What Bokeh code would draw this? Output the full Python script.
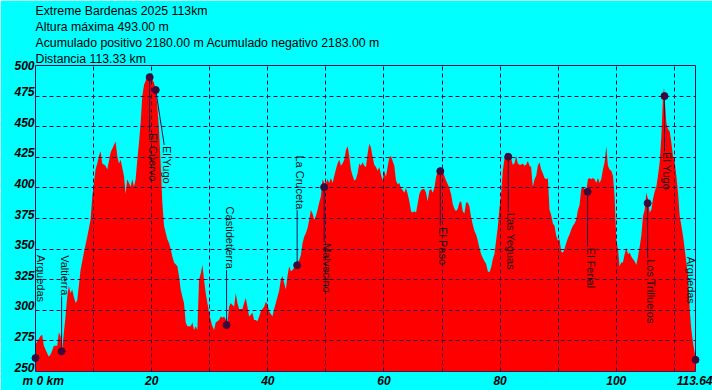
import math
from bokeh.plotting import figure
from bokeh.models import (ColumnDataSource, LabelSet, Range1d, FixedTicker, LinearAxis, Title)
from bokeh.core.properties import value
from bokeh.embed import file_html
from bokeh.resources import INLINE

# ---------------- data ----------------
title_lines = [
    "Extreme Bardenas 2025 113km",
    "Altura máxima 493.00 m",
    "Acumulado positivo 2180.00 m Acumulado negativo 2183.00 m",
    "Distancia 113.33 km",
]

dist_km = [
    0.00, 0.86, 1.15, 1.44, 2.01, 2.30, 2.70, 3.16, 3.74, 4.02, 4.31, 4.60, 4.89, 5.17, 5.46, 5.75,
    6.03, 6.32, 6.61, 6.90, 7.18, 7.76, 8.33, 8.91, 9.48, 9.77, 10.06, 10.34, 10.63, 10.92, 11.21,
    11.49, 12.07, 12.36, 12.93, 13.51, 13.79, 14.08, 14.37, 14.66, 15.23, 15.52, 15.80, 16.38, 16.67,
    16.95, 17.24, 17.53, 17.82, 18.10, 18.39, 18.68, 19.25, 19.54, 19.94, 20.40, 20.69, 20.98, 21.26,
    21.55, 21.84, 22.13, 22.70, 22.99, 23.28, 23.56, 23.85, 24.43, 24.71, 25.00, 25.29, 25.57, 25.86,
    26.15, 26.72, 27.01, 27.30, 27.59, 27.87,
    28.16, 28.45, 28.74, 29.02, 29.31, 29.60, 29.89, 30.17, 30.46, 30.75, 31.03, 31.61, 31.90, 32.18,
    32.47, 33.05, 33.33, 33.62, 34.20, 34.48, 34.77, 35.06, 35.63, 35.92, 36.21, 36.49, 36.78, 37.36,
    37.64, 37.93, 38.22, 38.51, 38.79, 39.08, 39.37, 39.66, 39.94, 40.23, 40.80, 41.09, 41.38, 41.67,
    41.95, 42.24, 42.53, 42.82, 43.10, 43.39, 43.68, 43.97, 44.25, 44.83, 45.40, 45.69, 45.98, 46.26,
    46.55, 46.84, 47.13, 47.41, 47.70, 47.99, 48.28, 48.56, 48.85, 49.14, 49.43, 49.71, 50.00, 50.29,
    50.57, 50.86, 51.15, 51.44, 51.72, 52.01, 52.30, 52.59, 52.87, 53.16, 53.45, 53.74, 54.02, 54.31,
    54.60, 54.89, 55.17, 55.46, 55.75, 56.03, 56.32, 56.61,
    56.90, 57.18, 57.47, 57.76, 58.05, 58.33, 58.62, 58.91, 59.20, 59.48, 59.77, 60.06, 60.34, 60.63,
    60.92, 61.21, 61.49, 61.78, 62.07, 62.36, 62.64, 62.93, 63.22, 63.51, 63.79, 64.08, 64.37, 64.66,
    64.94, 65.23, 65.52, 65.80, 66.09, 66.38, 66.67, 66.95, 67.24, 67.53, 67.82, 68.10, 68.39, 68.68,
    68.97, 69.25, 69.54, 69.83, 70.11, 70.40, 70.69, 70.98, 71.26, 71.55, 71.84, 72.13, 72.41, 72.70,
    72.99, 73.28, 73.56, 73.85, 74.14, 74.43, 74.71, 75.00, 75.29, 75.57, 75.86, 76.15, 76.44, 76.72,
    77.01, 77.30, 77.59, 77.87, 78.16, 78.45, 78.74, 79.02, 79.31, 79.60, 79.89, 80.17, 80.46, 80.75,
    81.03, 81.32, 81.61, 81.90, 82.18, 82.47, 82.76, 83.05, 83.33, 83.62, 83.91, 84.20, 84.48, 84.77,
    85.06, 85.34,
    85.63, 85.92, 86.21, 86.49, 86.78, 87.07, 87.36, 87.64, 87.93, 88.22, 88.51, 88.79, 89.08, 89.37,
    89.66, 89.94, 90.23, 90.52, 90.80, 91.09, 91.38, 91.67, 91.95, 92.24, 92.53, 92.82, 93.10, 93.39,
    93.68, 93.97, 94.25, 94.54, 94.83, 95.11, 95.40, 95.69, 95.98, 96.26, 96.55, 96.84, 97.13, 97.41,
    97.70, 97.99, 98.28, 98.56, 98.85, 99.14, 99.43, 99.71, 100.00, 100.29, 100.57, 100.86, 101.15,
    101.44, 101.72, 102.01, 102.30, 102.59, 102.87, 103.16, 103.45, 103.74, 104.02, 104.31, 104.60,
    104.89, 105.17, 105.46, 105.75, 106.03, 106.32, 106.61, 106.90, 107.18, 107.47, 107.76, 108.05,
    108.22, 108.51, 108.62, 108.91, 109.20, 109.48, 109.77, 110.06, 110.34, 110.63, 110.92, 111.21,
    111.49, 111.78, 112.07, 112.36, 112.64, 112.93, 113.22, 113.51, 113.64,
]

elev_m = [
    272, 279, 280, 271, 265, 262, 265, 271, 271, 282, 279, 267, 282, 295, 311, 320,
    314, 317, 311, 306, 308, 333, 347, 360, 374, 393, 404, 415, 420, 426, 430,
    420, 418, 415, 429, 435, 438, 426, 420, 423, 410, 395, 407, 401, 407,
    401, 407, 423, 437, 453, 475, 484, 491, 493, 490, 486, 480, 467, 448,
    420, 388, 369, 358, 355, 350, 344, 339, 336, 328, 317, 311, 306, 290,
    287, 287, 290, 284, 287, 284,
    325, 330, 337, 325, 314, 306, 298, 292, 287, 284, 290, 292, 295, 294,
    295, 290, 303, 306, 303, 314, 306, 301, 301, 306, 310, 303, 295, 298,
    292, 292, 291, 295, 299, 301, 303, 307, 305, 299, 295, 301, 306, 311,
    316, 325, 328, 322, 317, 328, 336, 332, 333, 337, 341, 345, 355, 360,
    363, 367, 374, 382, 379, 374, 377, 382, 388, 393, 407, 404, 404, 407,
    404, 408, 404, 410, 415, 420, 423, 418, 420, 423, 431, 434, 426, 415,
    410, 406, 407, 412, 420, 418, 421, 418,
    417, 428, 436, 433, 425, 419, 417, 414, 417, 411, 406, 414, 409, 417,
    425, 426, 422, 418, 406, 403, 404, 400, 398, 396, 400, 395, 389, 381,
    380, 381, 380, 387, 395, 398, 399, 399, 396, 389, 398, 399, 396, 400,
    409, 414, 414, 417, 413, 410, 406, 403, 400, 395, 387, 383, 381, 383,
    388, 389, 381, 379, 388, 388, 385, 376, 370, 365, 362, 357, 351, 346,
    343, 340, 338, 332, 331, 335, 342, 346, 357, 368, 384, 395, 414, 424,
    429, 428, 425, 424, 419, 420, 426, 420, 419, 419, 420, 418, 419, 422,
    418, 417,
    401, 407, 410, 418, 421, 415, 412, 408, 407, 408, 382, 378, 371, 369,
    361, 357, 358, 348, 347, 350, 355, 359, 362, 366, 369, 371, 374, 382,
    386, 399, 401, 399, 397, 407, 408, 407, 408, 407, 404, 408, 404, 407,
    415, 421, 434, 418, 415, 414, 410, 393, 358, 350, 336, 339, 339,
    346, 351, 346, 347, 344, 342, 340, 337, 344, 352, 361, 377,
    382, 396, 391, 380, 382, 391, 397, 401, 410, 421, 442, 475,
    482, 461, 453, 448, 446, 437, 426, 421, 410, 396, 377, 369,
    361, 350, 339, 328, 301, 284, 273, 265, 258,
]

wp_names = ["Arguedas", "Valtierra", "El Cuervo", "El Yugo", "Castidetierra", "La Cruceta",
            "Malvecino", "El Paso", "Las Yeguas", "El Ferial", "Los Trilluelos", "El Yugo", "Arguedas"]
wp_km = [0.0, 4.5, 19.66, 20.7, 32.9, 45.05, 49.7, 69.7, 81.4, 95.06, 105.4, 108.3, 113.64]
wp_elev = [261, 266.5, 490.5, 480, 288, 336.8, 400.6, 413.7, 425.4, 396.8, 387.5, 475, 259.5]
wp_side = ["up", "up", "down", "down", "up", "up", "down", "down", "down", "down", "down", "down", "up"]

x_ticks = [0, 20, 40, 60, 80, 100, 113.64]
x_tick_labels = ["m 0 km", "20", "40", "60", "80", "100", "113.64"]
y_ticks = [250, 275, 300, 325, 350, 375, 400, 425, 450, 475, 500]
y_tick_labels = ["250", "275", "300", "325", "350", "375", "400", "425", "450", "475", "500"]
x_grid = [10, 20, 30, 40, 50, 60, 70, 80, 90, 100, 110]
y_grid = [275, 300, 325, 350, 375, 400, 425, 450, 475]

# ---------------- layout / style ----------------
X_MIN, X_MAX = 0, 113.64
Y_MIN, Y_MAX = 250, 500
W, H = 712, 390
BL, BR, BT, BB = 35, 17, 65, 19
FRAME_W = W - BL - BR
FRAME_H = H - BT - BB
PX_PER_KM = FRAME_W / (X_MAX - X_MIN)
PX_PER_M = FRAME_H / (Y_MAX - Y_MIN)
LABEL_GAP = 56          # px between marker and start of its name
LINE_GAP = 55           # px length of the leader line
TEXT_NUDGE_PX = {0: 2, 3: 8.5, 12: -8}
LINE_NUDGE_PX = {3: 8.5}
Y_LABEL_RAISE_PX = 4.5  # y tick labels sit on their grid line
FIRST_X_LABEL_PAD = "\u2002\u2002\u00a0"

BG = "#00FFFF"
FONT = "Liberation Sans"
INK = "#000000"

p = figure(width=W, height=H, x_range=Range1d(X_MIN, X_MAX), y_range=Range1d(Y_MIN, Y_MAX),
           output_backend="svg", toolbar_location=None, y_axis_location=None,
           min_border_left=BL, min_border_right=BR, min_border_top=BT, min_border_bottom=BB)
p.background_fill_color = BG
p.border_fill_color = BG
p.outline_line_color = "#1b1450"
p.outline_line_width = 1

# x axis
xa = p.xaxis[0]
xa.ticker = FixedTicker(ticks=x_ticks)
overrides = {x_ticks[0]: FIRST_X_LABEL_PAD + x_tick_labels[0]}
overrides.update({t: s for t, s in zip(x_ticks[1:], x_tick_labels[1:])})
xa.major_label_overrides = overrides
xa.axis_line_color = None
xa.major_tick_line_color = None
xa.minor_tick_line_color = None
xa.major_tick_out = 0
xa.major_tick_in = 0
xa.major_label_standoff = 2
xa.major_label_text_font = FONT
xa.major_label_text_font_size = "12px"
xa.major_label_text_font_style = "bold italic"
xa.major_label_text_color = INK

# y axis: labels resting on their grid lines (top label held at the frame edge)
shift = Y_LABEL_RAISE_PX / PX_PER_M
lab_top = Y_MAX - shift
p.extra_y_ranges = {"ylab": Range1d(Y_MIN - shift, lab_top)}
y_label_pos = [min(t, lab_top) for t in y_ticks]
ya = LinearAxis(y_range_name="ylab", ticker=FixedTicker(ticks=y_label_pos))
ya.major_label_overrides = {t: s for t, s in zip(y_label_pos, y_tick_labels)}
ya.axis_line_color = None
ya.major_tick_line_color = None
ya.minor_tick_line_color = None
ya.major_tick_out = 0
ya.major_tick_in = 0
ya.major_label_standoff = 1
ya.major_label_text_font = FONT
ya.major_label_text_font_size = "12px"
ya.major_label_text_font_style = "bold italic"
ya.major_label_text_color = INK
p.add_layout(ya, "left")

# grids
p.xgrid.ticker = FixedTicker(ticks=x_grid)
p.ygrid.ticker = FixedTicker(ticks=y_grid)
for g in (p.xgrid[0], p.ygrid[0]):
    g.grid_line_color = "#2e0a45"
    g.grid_line_dash = "4 3"
    g.grid_line_width = 1
    g.level = "guide"

# header (first added sits closest to the plot)
for line in reversed(title_lines):
    p.add_layout(Title(text=line, align="left", standoff=0, offset=0, text_font=FONT,
                       text_font_size="12.3px", text_font_style="normal", text_color=INK), "above")

# elevation profile
p.varea(x=dist_km, y1=Y_MIN, y2=elev_m, fill_color="#FF0000", fill_alpha=1.0)

# waypoints
lab_x, line_x1, line_y1 = [], [], []
for i, (k, e, s) in enumerate(zip(wp_km, wp_elev, wp_side)):
    lab_x.append(k + TEXT_NUDGE_PX.get(i, 0) / PX_PER_KM)
    line_x1.append(k + LINE_NUDGE_PX.get(i, 0) / PX_PER_KM)
    d = LINE_GAP / PX_PER_M
    line_y1.append(e + d if s == "up" else e - d)

seg = p.segment(x0=wp_km, y0=wp_elev, x1=line_x1, y1=line_y1, line_color="#24104a", line_width=1)
seg.level = "annotation"
pts = p.scatter(x=wp_km, y=wp_elev, size=7, fill_color="#3b0a3b", line_color="#3b0a3b")
pts.level = "annotation"

for side, align, off in (("up", "right", LABEL_GAP), ("down", "left", -LABEL_GAP)):
    idx = [i for i, s in enumerate(wp_side) if s == side]
    src = ColumnDataSource(dict(x=[lab_x[i] for i in idx], y=[wp_elev[i] for i in idx],
                                name=[wp_names[i] for i in idx]))
    p.add_layout(LabelSet(x="x", y="y", text="name", source=src, angle=-math.pi / 2,
                          x_offset=-1, y_offset=off, text_align=align, text_baseline="alphabetic",
                          text_font=value(FONT), text_font_size="11px", text_color="#111111"))

open("out.html", "w").write(file_html(p, INLINE))
